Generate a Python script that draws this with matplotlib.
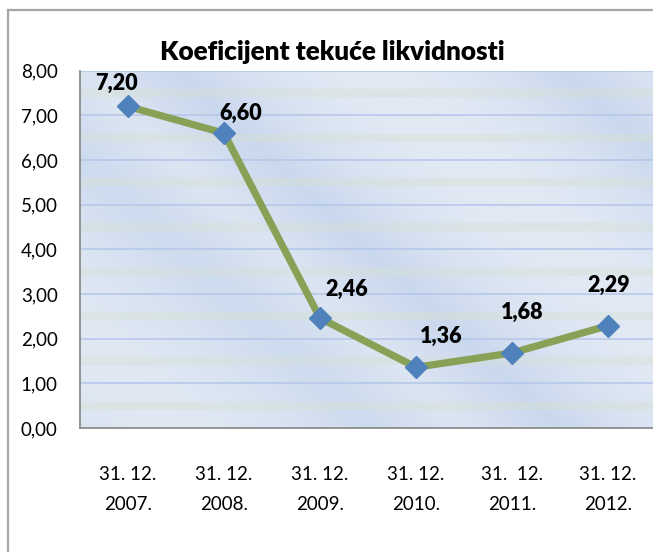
import matplotlib
matplotlib.use("Agg")
import matplotlib.pyplot as plt
import numpy as np
from matplotlib.lines import Line2D
from matplotlib.colors import LinearSegmentedColormap

title = "Koeficijent tekuće likvidnosti"
categories = ["31. 12.\n2007.", "31. 12.\n2008.", "31. 12.\n2009.",
              "31. 12.\n2010.", "31.  12.\n2011.", "31. 12.\n2012."]
values = [7.20, 6.60, 2.46, 1.36, 1.68, 2.29]
value_labels = ["7,20", "6,60", "2,46", "1,36", "1,68", "2,29"]
yticks = [0, 1, 2, 3, 4, 5, 6, 7, 8]
ytick_labels = ["0,00", "1,00", "2,00", "3,00", "4,00", "5,00", "6,00", "7,00", "8,00"]

# label offsets in pixels (dx, dy) relative to point
label_offsets = [(-12, 23), (17, 20), (27, 29), (25, 31), (10, 41), (1, 40)]

W, H = 653, 552
fig = plt.figure(figsize=(W / 100, H / 100), dpi=100)
fig.patch.set_facecolor("white")

FONT = "Lato"

ax = fig.add_axes([80 / W, (H - 428) / H, 576 / W, (428 - 70.7) / H])

# background gradient (soft)
cmap = LinearSegmentedColormap.from_list("bg", ["#DFE8F3", "#CDDBEF", "#DCE5F2", "#CAD8EE", "#E1E9F4"])
gx, gy = np.meshgrid(np.linspace(0, 1, 200), np.linspace(0, 1, 200))
grad = np.sin((gx * 1.2 - gy * 0.8) * 2.6) * 0.5 + 0.5
ax.imshow(grad, extent=[0, 1, 0, 1], transform=ax.transAxes, cmap=cmap,
          aspect="auto", zorder=0, interpolation="bilinear")

x = np.arange(len(categories))
ax.set_xlim(-0.5, len(categories) - 0.5)
ax.set_ylim(0, 8)

# faint greenish bands at half values
for yv in np.arange(0.5, 8, 1.0):
    ax.axhline(yv, color="#D6E1D2", lw=6, alpha=0.4, zorder=1)
for yv in yticks[1:]:
    ax.axhline(yv, color="#B3C6E9", lw=1.1, zorder=1.5)

ax.plot(x, values, color="#87A157", lw=5.2, zorder=3, solid_joinstyle="miter")
ax.plot(x, values, linestyle="none", marker="D", ms=11.5, mfc="#4F81BD",
        mec="#4F81BD", zorder=4)

for xi, v, lab, (dx, dy) in zip(x, values, value_labels, label_offsets):
    ax.annotate(lab, (xi, v), xytext=(dx * 0.72, dy * 0.72), textcoords="offset points",
                ha="center", va="center", fontsize=15.5, fontweight="heavy",
                family=FONT, color="black", zorder=5)

ax.set_yticks(yticks)
ax.set_yticklabels(ytick_labels, family=FONT, fontsize=13.5)
ax.set_xticks(x)
ax.set_xticklabels(categories, family=FONT, fontsize=13.5, linespacing=1.95)
ax.tick_params(axis="both", length=0, colors="black")
ax.tick_params(axis="y", pad=16)
ax.tick_params(axis="x", pad=27)

for s in ["top", "right"]:
    ax.spines[s].set_visible(False)
for s in ["left", "bottom"]:
    ax.spines[s].set_color("#8C8C8C")
    ax.spines[s].set_linewidth(1.3)

fig.text(332 / W, 1 - 52 / H, title, ha="center", va="center",
         fontsize=18.8, fontweight="heavy", family=FONT)

# outer border (left and top)
fig.add_artist(Line2D([8 / W, 8 / W], [0, 1 - 10 / H], color="#A6A6A6", lw=1.6,
                      transform=fig.transFigure))
fig.add_artist(Line2D([8 / W, 1], [1 - 10 / H, 1 - 10 / H], color="#A6A6A6", lw=1.6,
                      transform=fig.transFigure))

fig.savefig("out.png", dpi=100)
